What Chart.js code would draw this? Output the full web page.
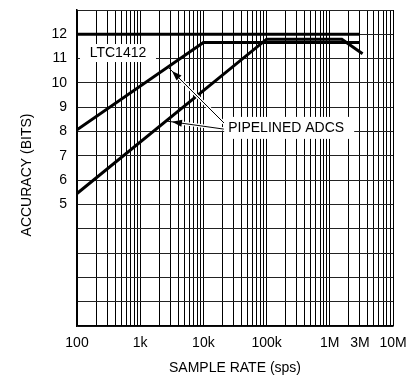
<!DOCTYPE html>
<html>
<head>
<meta charset="utf-8">
<script src="https://cdn.jsdelivr.net/npm/chart.js@4"></script>
<style>
html,body{margin:0;padding:0;background:#fff;}
#wrap{width:420px;height:379px;}
</style>
</head>
<body>
<div id="wrap"><canvas id="c" width="420" height="379"></canvas></div>
<script>
// ---- data ----
const ltcX = [100, 3e6];
const ltcY = [12, 12];
const pipe1X = [100, 1e4, 3e6];
const pipe1Y = [8.07, 11.66, 11.66];
const pipe2X = [100, 1e5, 1.55e6, 3.3e6];
const pipe2Y = [5.45, 11.8, 11.8, 11.2];
const xTickLabels = {100:'100', 1000:'1k', 10000:'10k', 100000:'100k', 1000000:'1M', 3000000:'3M', 10000000:'10M'};
const yTickLabels = [5, 6, 7, 8, 9, 10, 11, 12];
const yTitle = 'ACCURACY (BITS)';
const xTitle = 'SAMPLE RATE (sps)';

const FONT = "'Liberation Sans Narrow', 'Liberation Sans', Arial, sans-serif";
const pts = (xs, ys) => xs.map((x, i) => ({x, y: ys[i]}));

const annot = {
  id: 'annot',
  beforeDatasetsDraw(chart) {
    const {ctx, scales: {x, y}} = chart;
    ctx.save();
    ctx.font = "14px " + FONT;
    ctx.textBaseline = 'middle';
    ctx.textAlign = 'center';
    // LTC1412 label
    let cx = x.getPixelForValue(445), cy = y.getPixelForValue(11.23);
    ctx.fillStyle = '#fff';
    ctx.fillRect(cx - 38, cy - 9, 76, 18);
    ctx.fillStyle = '#000';
    ctx.fillText('LTC1412', cx, cy);
    // PIPELINED ADCS label
    cx = x.getPixelForValue(204000); cy = y.getPixelForValue(8.15);
    ctx.fillStyle = '#fff';
    ctx.fillRect(cx - 62, cy - 11, 130, 22);
    ctx.fillStyle = '#000';
    ctx.fillText('PIPELINED ADCS', cx, cy);
    // y axis title (placed slightly below plot centre as in reference)
    ctx.save();
    ctx.translate(27, (y.top + y.bottom) / 2 + 7);
    ctx.rotate(-Math.PI / 2);
    ctx.fillText(yTitle, 0, 0);
    ctx.restore();
    ctx.restore();
  },
  afterDatasetsDraw(chart) {
    const {ctx, scales: {x, y}} = chart;
    const arrows = [
      [21200, 8.35, 3180, 10.49],
      [21000, 8.1, 3180, 8.4]
    ];
    ctx.save();
    arrows.forEach(([x0, y0, x1, y1]) => {
      const px0 = x.getPixelForValue(x0), py0 = y.getPixelForValue(y0);
      const px1 = x.getPixelForValue(x1), py1 = y.getPixelForValue(y1);
      const ang = Math.atan2(py1 - py0, px1 - px0);
      ctx.strokeStyle = '#fff'; ctx.lineWidth = 3.5;
      ctx.beginPath(); ctx.moveTo(px0, py0); ctx.lineTo(px1, py1); ctx.stroke();
      ctx.strokeStyle = '#000'; ctx.lineWidth = 1;
      ctx.beginPath(); ctx.moveTo(px0, py0); ctx.lineTo(px1 + 6 * Math.cos(ang), py1 + 6 * Math.sin(ang)); ctx.stroke();
      const L = 10, W = 3.5;
      const bx = px1 - L * Math.cos(ang), by = py1 - L * Math.sin(ang);
      ctx.fillStyle = '#000';
      ctx.beginPath();
      ctx.moveTo(px1, py1);
      ctx.lineTo(bx + W * Math.sin(ang), by - W * Math.cos(ang));
      ctx.lineTo(bx - W * Math.sin(ang), by + W * Math.cos(ang));
      ctx.closePath(); ctx.fill();
    });
    ctx.restore();
  }
};

const lineDs = (data) => ({
  data, showLine: true, borderColor: '#000', backgroundColor: '#000',
  borderWidth: 3, pointRadius: 0, tension: 0
});

new Chart(document.getElementById('c'), {
  type: 'scatter',
  data: {
    datasets: [
      lineDs(pts(ltcX, ltcY)),
      lineDs(pts(pipe1X, pipe1Y)),
      lineDs(pts(pipe2X, pipe2Y))
    ]
  },
  options: {
    responsive: false,
    devicePixelRatio: 1,
    animation: false,
    events: [],
    layout: {padding: {left: 0, right: 27, top: 10, bottom: 0}},
    plugins: {legend: {display: false}, tooltip: {enabled: false}},
    scales: {
      x: {
        type: 'logarithmic',
        min: 100, max: 1e7,
        afterFit(s) { s.height = 53; s.paddingLeft = 0; s.paddingRight = 0; },
        afterBuildTicks(s) {
          const t = [];
          for (let d = 100; d < 1e7; d *= 10) for (let m = 1; m <= 9; m++) t.push({value: d * m});
          t.push({value: 1e7});
          s.ticks = t;
        },
        grid: {color: '#000', lineWidth: 1, drawTicks: false},
        border: {display: true, color: '#000', width: 1.5},
        ticks: {
          autoSkip: false, maxRotation: 0, padding: 9,
          color: '#000', font: {family: FONT, size: 14},
          callback: (v) => xTickLabels[Math.round(v)] || ''
        },
        title: {display: true, text: xTitle, color: '#000',
          font: {family: FONT, size: 14}, padding: {top: 0, bottom: 2}}
      },
      y: {
        min: 0, max: 13,
        afterFit(s) { s.width = 77; s.paddingTop = 0; s.paddingBottom = 0; },
        grid: {color: '#222', lineWidth: 1, drawTicks: false},
        border: {display: true, color: '#000', width: 1.5},
        ticks: {
          stepSize: 1, padding: 10, autoSkip: false,
          color: '#000', font: {family: FONT, size: 14},
          callback: (v) => yTickLabels.includes(v) ? String(v) : ''
        },
        title: {display: false}
      }
    }
  },
  plugins: [annot]
});
</script>
</body>
</html>
